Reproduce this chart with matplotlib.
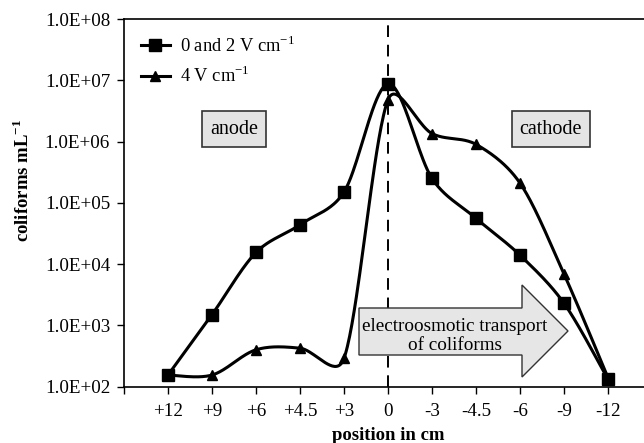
import numpy as np
import matplotlib
matplotlib.use("Agg")
import matplotlib.pyplot as plt
from matplotlib.patches import Polygon

plt.rcParams['font.family'] = ['Liberation Serif', 'DejaVu Serif']
plt.rcParams['mathtext.fontset'] = 'custom'
plt.rcParams['mathtext.rm'] = 'Liberation Serif'
plt.rcParams['mathtext.bf'] = 'Liberation Serif:bold'

positions = ["+12", "+9", "+6", "+4.5", "+3", "0", "-3", "-4.5", "-6", "-9", "-12"]
series_0_2V = [155, 1500, 15500, 44000, 150000, 8.7e6, 2.5e5, 5.6e4, 1.4e4, 2300, 132]
series_4V = [155, 155, 400, 425, 290, 4.8e6, 1.35e6, 9.0e5, 2.1e5, 6900, 140]
ytick_labels = ["1.0E+02", "1.0E+03", "1.0E+04", "1.0E+05", "1.0E+06", "1.0E+07", "1.0E+08"]

# aspect used for smoothing: pixels per category step and per decade
SX, SY = 44.0, 61.3


def smooth(xs, ys, n=40):
    """Excel-like smoothed line: Bezier segments with length-adapted tangents."""
    x = np.asarray(xs, float) * SX
    y = np.log10(np.asarray(ys, float)) * SY
    P = np.column_stack([x, y])
    m = len(P)
    ox, oy = [], []
    for i in range(m - 1):
        p1, p2 = P[i], P[i + 1]
        p0 = P[i - 1] if i > 0 else p1
        p3 = P[i + 2] if i + 2 < m else p2
        seg = np.linalg.norm(p2 - p1)

        def ctrl(prev, cur, nxt, adj):
            l1 = np.linalg.norm(cur - prev)
            l2 = np.linalg.norm(nxt - cur)
            tot = l1 + l2
            f = 1.0 if tot == 0 else min(1.0, 2 * adj / tot) ** 0.5
            return (nxt - prev) / 6.0 * f

        c1 = p1 + ctrl(p0, p1, p2, seg)
        c2 = p2 - ctrl(p1, p2, p3, seg)
        t = np.linspace(0, 1, n)[:, None]
        b = ((1 - t) ** 3) * p1 + 3 * ((1 - t) ** 2) * t * c1 + 3 * (1 - t) * t ** 2 * c2 + t ** 3 * p2
        ox.extend(b[:, 0]); oy.extend(b[:, 1])
    return np.array(ox) / SX, 10 ** (np.array(oy) / SY)


fig = plt.figure(figsize=(6.44, 4.43), dpi=100)
ax = fig.add_axes([124 / 644, 1 - 386.7 / 443, 528 / 644, (386.7 - 19) / 443])

idx = np.arange(len(positions))
for vals, mk, ms, lab in [(series_0_2V, 's', 8, "0 and 2 V cm$^{-1}$"),
                          (series_4V, '^', 7, "4 V cm$^{-1}$")]:
    sx, sy = smooth(idx, vals)
    ax.plot(sx, sy, color='black', lw=2.2, zorder=3)
    ax.plot(idx, vals, linestyle='none', marker=mk, ms=ms, color='black', zorder=4)
    ax.plot([], [], color='black', lw=2.2, marker=mk, ms=ms, label=lab)

ax.set_yscale('log')
ax.set_ylim(1e2, 1e8)
ax.set_xlim(-1, 11)
ax.set_yticks([10.0 ** k for k in range(2, 9)])
ax.set_yticklabels(ytick_labels)
ax.yaxis.set_minor_locator(matplotlib.ticker.NullLocator())
ax.set_xticks(np.concatenate([[-1], idx]))
ax.set_xticklabels([""] + positions)
ax.tick_params(axis='both', direction='out', length=5, width=1, labelsize=13.7, colors='black')
ax.tick_params(axis='x', pad=7)
ax.tick_params(axis='y', pad=5)

for s in ['left', 'bottom', 'top']:
    ax.spines[s].set_linewidth(1.2)
ax.spines['right'].set_visible(False)

ax.set_xlabel("position in cm", fontsize=13.5, fontweight='bold', labelpad=5)
ax.set_ylabel("coliforms mL$^{\\mathbf{-1}}$", fontsize=13.5, fontweight='bold', labelpad=8)
ax.yaxis.set_label_coords(-0.172, 0.56)

# dashed centre line at position 0
ax.axvline(positions.index("0"), ymin=0, ymax=0.99, color='black', lw=1.4,
           linestyle=(0, (6, 4)), zorder=2)

leg = ax.legend(loc='upper left', frameon=False, fontsize=13.3, handlelength=1.6,
                bbox_to_anchor=(0.0, 1.0), borderaxespad=0.5, labelspacing=0.55,
                handletextpad=0.55)

# anode / cathode boxes (figure pixel coordinates -> axes fraction)
def axfrac(px, py):
    return ((px - 124) / 528, (386.7 - py) / (386.7 - 19))

for text, cx in [("anode", 234), ("cathode", 551)]:
    ax.text(*axfrac(cx, 129), text, transform=ax.transAxes, ha='center', va='center',
            fontsize=14.5, zorder=5,
            bbox=dict(boxstyle='square,pad=0.4', fc='#e4e4e4', ec='#333333', lw=1.2))

# block arrow
pts = [(359, 308), (522, 308), (522, 285), (568, 331), (522, 377), (522, 355), (359, 355)]
arrow = Polygon([axfrac(*p) for p in pts], closed=True, transform=ax.transAxes,
                fc='#e6e6e6', ec='#333333', lw=1.0, zorder=5)
ax.add_patch(arrow)
ax.text(*axfrac(455, 336), "electroosmotic transport\nof coliforms", transform=ax.transAxes,
        ha='center', va='center', fontsize=13.8, linespacing=1.15, zorder=6)

fig.savefig("out.png", dpi=100)
